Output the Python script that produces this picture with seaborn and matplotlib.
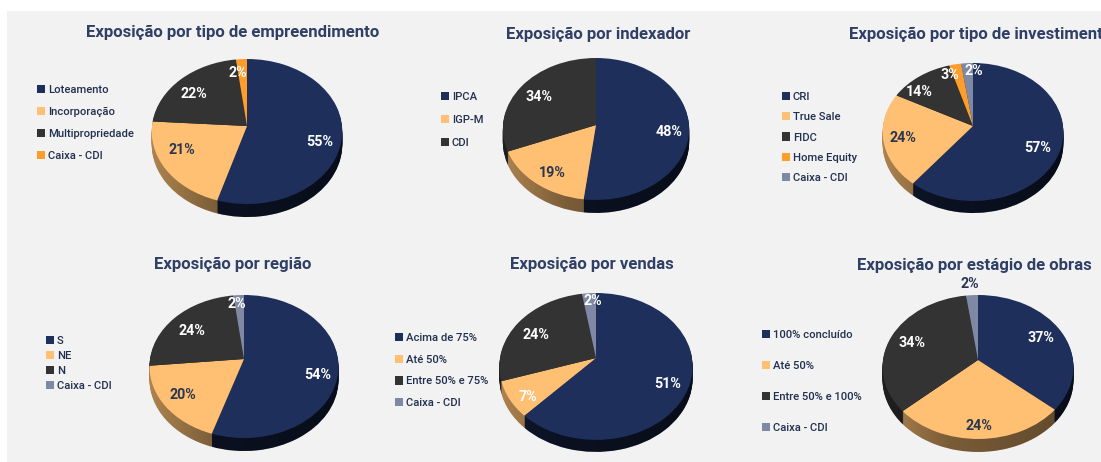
import numpy as np
import matplotlib
matplotlib.use("Agg")
import matplotlib.pyplot as plt
import matplotlib.transforms as mtransforms
from matplotlib.patches import Circle, Patch
import seaborn as sns

W, H = 1101, 462

NAVY = "#1f2f5c"
TAN = "#ffc074"
DARK = "#333333"
ORANGE = "#ff9d2a"
GREY = "#7f89a3"
TITLE = "#2f3f66"

titles = ["Exposição por tipo de empreendimento", "Exposição por indexador", "Exposição por tipo de investimento",
          "Exposição por região", "Exposição por vendas", "Exposição por estágio de obras"]

labels_1 = ["Loteamento", "Incorporação", "Multipropriedade", "Caixa - CDI"]
values_1 = [55, 21, 22, 2]
sizes_1 = [54.7, 21.3, 22, 2]
labels_2 = ["IPCA", "IGP-M", "CDI"]
values_2 = [48, 19, 34]
sizes_2 = [52, 17, 31]
labels_3 = ["CRI", "True Sale", "FIDC", "Home Equity", "Caixa - CDI"]
values_3 = [57, 24, 14, 3, 2]
sizes_3 = [60.7, 22, 12.7, 2.3, 2.3]
labels_4 = ["S", "NE", "N", "Caixa - CDI"]
values_4 = [54, 20, 24, 2]
sizes_4 = [55, 18.5, 24.5, 2]
labels_5 = ["Acima de 75%", "Até 50%", "Entre 50% e 75%", "Caixa - CDI"]
values_5 = [51, 7, 24, 2]
sizes_5 = [62, 8, 27.4, 2.6]
labels_6 = ["100% concluído", "Até 50%", "Entre 50% e 100%", "Caixa - CDI"]
values_6 = [37, 24, 34, 2]
sizes_6 = [36.3, 27, 34.5, 2.2]

colors_1 = [NAVY, TAN, DARK, ORANGE]
colors_2 = [NAVY, TAN, DARK]
colors_3 = [NAVY, TAN, DARK, ORANGE, GREY]
colors_4 = [NAVY, TAN, DARK, GREY]
wall_shade = {NAVY: 0.5, TAN: 0.68, DARK: 0.6, ORANGE: 0.6, GREY: 0.6}

# layout in reference pixels: apex x, apex y, half width, apex->top, wall depth, perspective
pies = [(247, 126, 95, 67, 13, 0.076), (596, 125, 93, 67, 13, 0.056), (973, 126, 90, 63, 12, 0.087),
        (244, 359, 94, 64, 13, 0.105), (596, 358, 96, 65, 12, 0.115), (978, 360, 95, 65, 13, 0.097)]
title_pos = [(233, 32), (598, 34), (981, 34), (233, 264), (592, 264), (974, 265)]
# legend: marker left x, first row y, last row y
legend_pos = [(37, 90, 156), (441, 97, 143), (782, 97, 178), (46, 341, 386), (395, 338, 403), (762, 335, 428)]
# value labels centres and colours
text_pos = [[(320, 142, "w"), (182, 150, "d"), (194, 94, "w"), (238, 73, "w")],
            [(669, 132, "w"), (552, 173, "d"), (539, 97, "w")],
            [(1038, 148, "w"), (903, 138, "d"), (919, 92, "w"), (950, 75, "w"), (974, 71, "w")],
            [(318, 375, "w"), (183, 395, "d"), (192, 331, "w"), (237, 304, "w")],
            [(668, 384, "w"), (528, 397, "w"), (536, 335, "w"), (593, 301, "w")],
            [(1041, 338, "w"), (979, 426, "d"), (912, 343, "w"), (970, 284, "d")]]


class Tilt(mtransforms.Transform):
    # perspective of the disc: the far edge looks smaller than the near edge
    input_dims = output_dims = 2

    def __init__(self, k):
        super().__init__()
        self.k = k

    def transform_non_affine(self, xy):
        xy = np.asarray(xy)
        return xy / (1 + self.k * xy[:, 1])[:, None]


def px(x, y):
    return x / W, 1 - y / H


def draw_pie(fig, sizes, values, labels, colors, pie, title, tpos, lpos, tlabels):
    cx, cy, rx, top, depth, k = pie
    ry = top * (1 + k)
    half = 130
    ax = fig.add_axes([(cx - half) / W, 1 - (cy + half) / H, 2 * half / W, 2 * half / H])
    ax.patch.set_alpha(0)

    # wall: stacked darker copies from the bottom up
    sides = [np.array(matplotlib.colors.to_rgb(c)) * wall_shade[c] for c in colors]
    for d in range(depth, 0, -1):
        wedges, _ = ax.pie(sizes, colors=sides, startangle=90, counterclock=False)
        shift = mtransforms.Affine2D().translate(0, -d / ry)
        for w in wedges:
            w.set_transform(Tilt(k) + shift + ax.transData)
            w.set_linewidth(0)

    wedges, _ = ax.pie(sizes, colors=colors, startangle=90, counterclock=False)
    for w in wedges:
        w.set_transform(Tilt(k) + ax.transData)
        w.set_linewidth(0)
        w.set_zorder(5)

    # light falls from the left, wall gets darker to the right
    grad = np.zeros((1, 256, 4))
    grad[0, :, 3] = np.interp(np.linspace(-1, 1, 256), [-1, -0.3, 1], [0, 0.3, 0.45])
    im = ax.imshow(grad, extent=(-1, 1, -2, 2), aspect="auto", zorder=3, interpolation="bilinear")
    clip = Circle((0, 0), 1, transform=Tilt(k) + mtransforms.Affine2D().translate(0, -depth / ry) + ax.transData)
    im.set_clip_path(clip)

    ax.set_aspect("auto")
    ax.set_xlim(-half / rx, half / rx)
    ax.set_ylim(-half / ry, half / ry)
    ax.axis("off")

    tx, ty = px(*tpos)
    fig.text(tx, ty, title, ha="center", va="center", fontsize=12.1, fontweight="bold", color=TITLE)

    lx, y0, y1 = lpos
    step = (y1 - y0) / (len(labels) - 1)
    fs = 8.1
    fpx = fs * 100 / 72
    handles = [Patch(facecolor=c, edgecolor="none", label=t) for c, t in zip(colors, labels)]
    leg = ax.legend(handles=handles, loc="center left", bbox_to_anchor=px(lx, (y0 + y1) / 2),
                    bbox_transform=fig.transFigure, frameon=False, prop={"size": fs, "weight": "medium"},
                    borderpad=0, borderaxespad=0, handlelength=0.75, handleheight=0.75, handletextpad=0.2,
                    labelspacing=(step + 1.2 - fpx) / fpx, labelcolor="#22304f")
    leg.set_zorder(10)

    for v, (x, y, c) in zip(values, tlabels):
        fx, fy = px(x, y)
        fig.text(fx, fy, f"{v}%", ha="center", va="center", fontsize=10.3, fontweight="bold",
                 color="white" if c == "w" else "#2a3550", zorder=20)


def main():
    sns.set_theme(style="white")
    plt.rcParams["font.family"] = ["Roboto", "DejaVu Sans"]

    fig = plt.figure(figsize=(W / 100, H / 100), dpi=100, facecolor="white")
    bg = fig.add_axes([7 / W, 0, 1 - 7 / W, 1 - 11 / H])
    bg.set_facecolor("#f2f2f2")
    bg.set_xticks([])
    bg.set_yticks([])
    sns.despine(ax=bg, left=True, bottom=True)

    all_sizes = [sizes_1, sizes_2, sizes_3, sizes_4, sizes_5, sizes_6]
    all_values = [values_1, values_2, values_3, values_4, values_5, values_6]
    all_labels = [labels_1, labels_2, labels_3, labels_4, labels_5, labels_6]
    all_colors = [colors_1, colors_2, colors_3, colors_4, colors_4, colors_4]
    for i in range(6):
        draw_pie(fig, all_sizes[i], all_values[i], all_labels[i], all_colors[i], pies[i], titles[i],
                 title_pos[i], legend_pos[i], text_pos[i])

    fig.savefig("out.png", dpi=100)


if __name__ == "__main__":
    main()
